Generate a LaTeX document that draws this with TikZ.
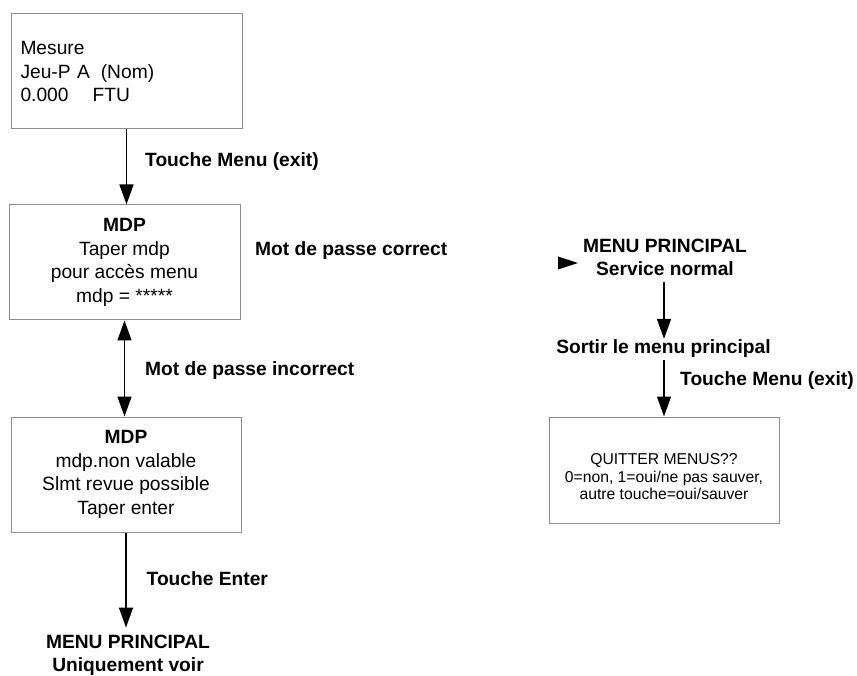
\documentclass[tikz,border=0pt]{standalone}
\usepackage{fontspec}
\setmainfont{Liberation Sans}
\usetikzlibrary{arrows.meta}
\definecolor{boxgray}{RGB}{140,140,140}
\begin{document}
\begin{tikzpicture}[x=1pt,y=-1pt,
  >={Triangle[length=20pt,width=14pt]},
  screen/.style={draw=boxgray, line width=1pt, minimum width=231pt, minimum height=115pt,
                 inner sep=0pt, font=\fontsize{19.2}{23.5}\selectfont, align=center},
  lbl/.style={font=\fontsize{19.2}{23}\selectfont\bfseries, inner sep=0pt},
  state/.style={font=\fontsize{19.2}{23}\selectfont\bfseries, inner sep=0pt, align=center},
  flow/.style={line width=1.4pt, ->},
  flowboth/.style={line width=1.4pt, <->},
]
\useasboundingbox (0,0) rectangle (857,676);

% left column: measurement screen and password screens
\node[screen, align=left, text width=212pt] (mesure) at (126.5,71.5)
  {Mesure\\Jeu-P A\hspace{11pt}(Nom)\\0.000\hspace{24pt}FTU};
\node[screen] (mdp) at (124.5,262.5)
  {\textbf{MDP}\\Taper mdp\\pour accès menu\\mdp = *****};
\node[screen, minimum width=230pt] (mdpbad) at (126,474.5)
  {\textbf{MDP}\\mdp.non valable\\Slmt revue possible\\Taper enter};
\node[state] (voir) at (128,655) {MENU PRINCIPAL\\Uniquement voir};

\draw[flow] (mesure.south) -- (mesure.south |- mdp.north);
\draw[flowboth] (mdp.south) -- (mdp.south |- mdpbad.north);
\draw[flow, shorten >=7pt] (mdpbad.south) -- (mdpbad.south |- voir.north);

\node[lbl, anchor=base west] (lexit) at (145,167) {Touche Menu (exit)};
\node[lbl, anchor=base west] (lok) at (255,256) {Mot de passe correct};
\node[lbl, anchor=base west] (lbad) at (145,376) {Mot de passe incorrect};
\node[lbl, anchor=base west] (lenter) at (146.5,585) {Touche Enter};

% right column: leaving the main menu
\fill (558,256.5) -- (578,263) -- (558,269.5) -- cycle;
\node[state] (normal) at (665,257.5) {MENU PRINCIPAL\\Service normal};
\node[lbl, anchor=base] (sortir) at (663.5,353) {Sortir le menu principal};
\node[draw=boxgray, line width=1pt, minimum width=230pt, minimum height=106pt, inner sep=0pt]
  (quit) at (664,470) {};
\node[font=\fontsize{15.7}{17.5}\selectfont, align=center, inner sep=0pt] (quittxt) at (664,477)
  {QUITTER MENUS??\\0=non, 1=oui/ne pas sauver,\\autre touche=oui/sauver};

\draw[flow, shorten <=6pt] (normal.south -| quit.north) -- (sortir.north -| quit.north);
\draw[flow, shorten <=3pt] (sortir.south -| quit.north) -- (quit.north);
\node[lbl, anchor=base west] (lexit2) at (680,385.5) {Touche Menu (exit)};
\end{tikzpicture}
\end{document}
